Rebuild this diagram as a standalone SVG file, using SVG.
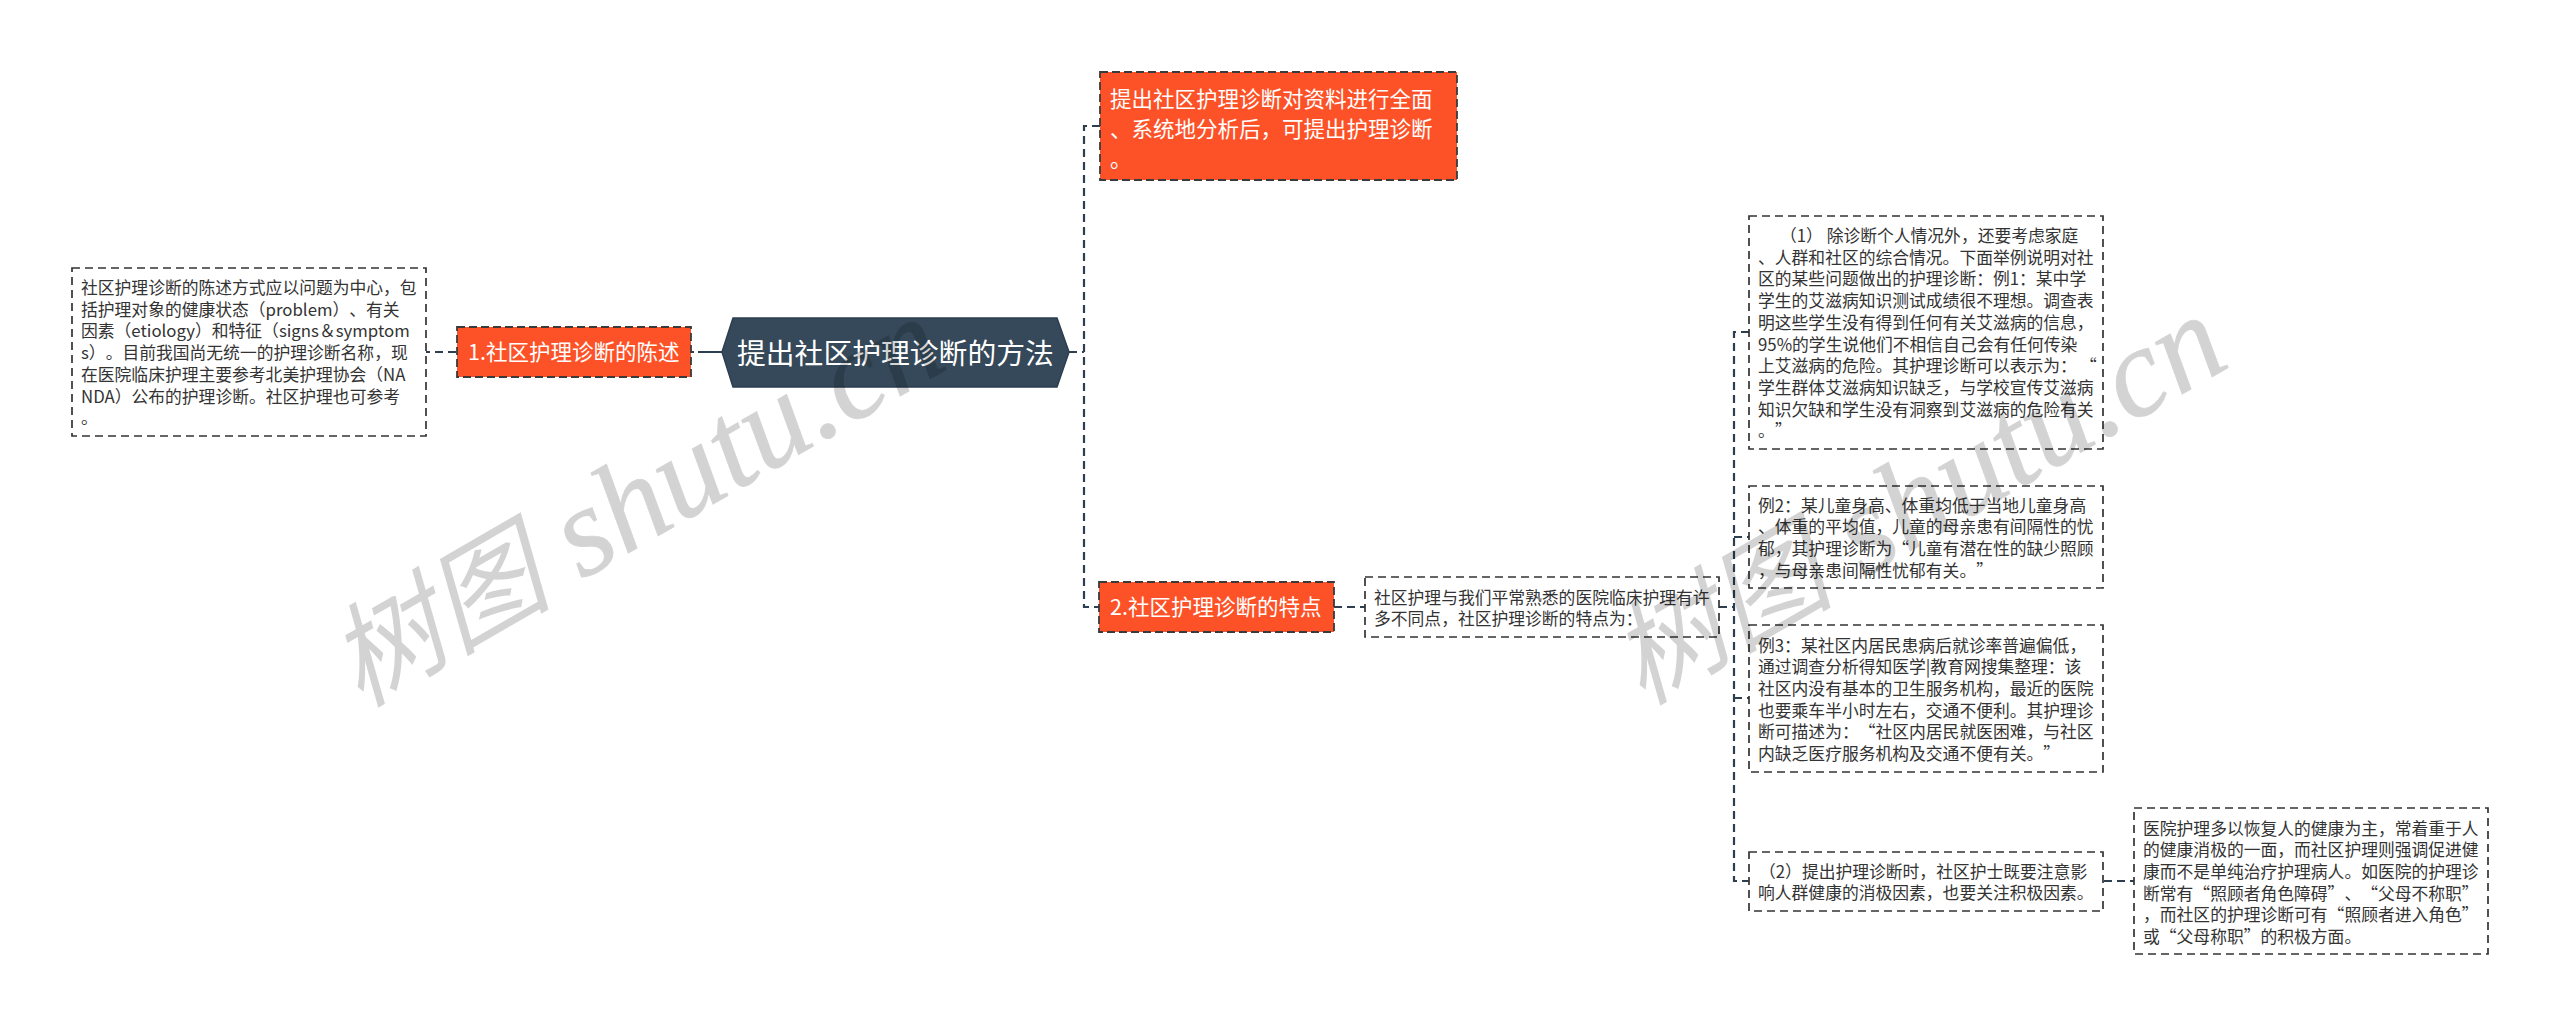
<svg xmlns="http://www.w3.org/2000/svg" width="2560" height="1027" viewBox="0 0 2560 1027">
<style>
text{font-family:"Noto Sans CJK SC","Noto Sans",sans-serif;text-spacing-trim:space-all;}
.bg{fill:#fff}
.box{fill:#fff;stroke:#333;stroke-width:1.7;stroke-dasharray:8 5}
.org{fill:#fd5227;stroke:#3a3a3a;stroke-width:1.8;stroke-dasharray:8 4}
.t{font-size:16.8px;fill:#333}
.o{font-size:21.5px;fill:#fff}
.r{font-size:28.8px;fill:#fff}
.c{fill:none;stroke:#2c3e50;stroke-width:2.2;stroke-dasharray:8 5}
.wm{fill:#000;opacity:.17}
.wl{font-family:"Liberation Serif",serif;font-style:italic;font-size:127px;stroke:#000;stroke-width:.8}
.wc{font-family:"Noto Sans CJK SC",sans-serif;font-style:italic;font-weight:400;font-size:112px}
</style>
<rect class="bg" width="2560" height="1027"/>
<g id="connectors">
<path class="c" d="M1069 352H1084"/>
<path class="c" d="M1100 126H1084V607H1099"/>
<path class="c" d="M722 352H691" style="stroke-dasharray:24 4"/>
<path class="c" d="M456 352H426"/>
<path class="c" d="M1334 607H1365"/>
<path class="c" d="M1719 607H1734"/>
<path class="c" d="M1749 332H1734V881H1749"/>
<path class="c" d="M1734 537H1749"/>
<path class="c" d="M1734 698H1749"/>
<path class="c" d="M2104 881H2134"/>
</g>
<g id="root">
<path d="M722 352L733 318H1057L1069 352L1057 387H733Z" fill="#35495a" stroke="#2c3e50" stroke-width="1.5"/>
<text class="r" x="737" y="364">提出社区护理诊断的方法</text>
</g>
<g id="node-top">
<rect class="org" x="1100" y="72" width="357" height="108"/>
<text class="o"><tspan x="1110" y="107">提出社区护理诊断对资料进行全面</tspan><tspan x="1110" y="137">、系统地分析后，可提出护理诊断</tspan><tspan x="1110" y="167">。</tspan></text>
</g>
<g id="node-1">
<rect class="org" x="457" y="327" width="234" height="50"/>
<text class="o" x="468" y="360">1.社区护理诊断的陈述</text>
</g>
<g id="node-1-detail">
<rect class="box" x="72" y="268" width="354" height="168"/>
<text class="t"><tspan x="81" y="294">社区护理诊断的陈述方式应以问题为中心，包</tspan><tspan x="81" y="315.7">括护理对象的健康状态（problem）、有关</tspan><tspan x="81" y="337.4">因素（etiology）和特征（signs＆symptom</tspan><tspan x="81" y="359.1">s）。目前我国尚无统一的护理诊断名称，现</tspan><tspan x="81" y="380.8">在医院临床护理主要参考北美护理协会（NA</tspan><tspan x="81" y="402.5">NDA）公布的护理诊断。社区护理也可参考</tspan><tspan x="81" y="424.2">。</tspan></text>
</g>
<g id="node-2">
<rect class="org" x="1099" y="582" width="235" height="50"/>
<text class="o" x="1110" y="615">2.社区护理诊断的特点</text>
</g>
<g id="node-2-detail">
<rect class="box" x="1365" y="577" width="354" height="60"/>
<text class="t"><tspan x="1374" y="603.5">社区护理与我们平常熟悉的医院临床护理有许</tspan><tspan x="1374" y="625.2">多不同点，社区护理诊断的特点为：</tspan></text>
</g>
<g id="node-a">
<rect class="box" x="1749" y="216" width="354" height="233"/>
<text class="t"><tspan x="1780" y="242">（1） 除诊断个人情况外，还要考虑家庭</tspan><tspan x="1758" y="263.7">、人群和社区的综合情况。下面举例说明对社</tspan><tspan x="1758" y="285.4">区的某些问题做出的护理诊断：例1：某中学</tspan><tspan x="1758" y="307.1">学生的艾滋病知识测试成绩很不理想。调查表</tspan><tspan x="1758" y="328.8">明这些学生没有得到任何有关艾滋病的信息，</tspan><tspan x="1758" y="350.5">95%的学生说他们不相信自己会有任何传染</tspan><tspan x="1758" y="372.2">上艾滋病的危险。其护理诊断可以表示为：</tspan><tspan x="2080" y="372.2">“</tspan><tspan x="1758" y="393.9">学生群体艾滋病知识缺乏，与学校宣传艾滋病</tspan><tspan x="1758" y="415.6">知识欠缺和学生没有洞察到艾滋病的危险有关</tspan><tspan x="1758" y="437.3">。</tspan><tspan x="1775" y="437.3">”</tspan></text>
</g>
<g id="node-b">
<rect class="box" x="1749" y="486" width="354" height="102"/>
<text class="t"><tspan x="1758" y="511.5">例2：某儿童身高、体重均低于当地儿童身高</tspan><tspan x="1758" y="533.2">、体重的平均值，儿童的母亲患有间隔性的忧</tspan><tspan x="1758" y="554.9">郁，其护理诊断为“儿童有潜在性的缺少照顾</tspan><tspan x="1758" y="576.6">，与母亲患间隔性忧郁有关。”</tspan></text>
</g>
<g id="node-c">
<rect class="box" x="1749" y="625" width="354" height="147"/>
<text class="t"><tspan x="1758" y="651.5">例3：某社区内居民患病后就诊率普遍偏低，</tspan><tspan x="1758" y="673.2">通过调查分析得知医学|教育网搜集整理：该</tspan><tspan x="1758" y="694.9">社区内没有基本的卫生服务机构，最近的医院</tspan><tspan x="1758" y="716.6">也要乘车半小时左右，交通不便利。其护理诊</tspan><tspan x="1758" y="738.3">断可描述为：“社区内居民就医困难，与社区</tspan><tspan x="1758" y="760">内缺乏医疗服务机构及交通不便有关。”</tspan></text>
</g>
<g id="node-d">
<rect class="box" x="1749" y="852" width="354" height="59"/>
<text class="t"><tspan x="1759" y="877.5">（2）提出护理诊断时，社区护士既要注意影</tspan><tspan x="1758" y="899.2">响人群健康的消极因素，也要关注积极因素。</tspan></text>
</g>
<g id="node-e">
<rect class="box" x="2134" y="808" width="354" height="146"/>
<text class="t"><tspan x="2143" y="834.5">医院护理多以恢复人的健康为主，常着重于人</tspan><tspan x="2143" y="856.2">的健康消极的一面，而社区护理则强调促进健</tspan><tspan x="2143" y="877.9">康而不是单纯治疗护理病人。如医院的护理诊</tspan><tspan x="2143" y="899.6">断常有“照顾者角色障碍”、“父母不称职”</tspan><tspan x="2143" y="921.3">，而社区的护理诊断可有“照顾者进入角色”</tspan><tspan x="2143" y="943">或“父母称职”的积极方面。</tspan></text>
</g>
<g id="watermark">
<text class="wm" transform="translate(360 708) rotate(-30)"><tspan class="wc">树图</tspan><tspan class="wl"> shutu.cn</tspan></text>
<text class="wm" transform="translate(1642 706) rotate(-30)"><tspan class="wc">树图</tspan><tspan class="wl"> shutu.cn</tspan></text>
</g>
</svg>
